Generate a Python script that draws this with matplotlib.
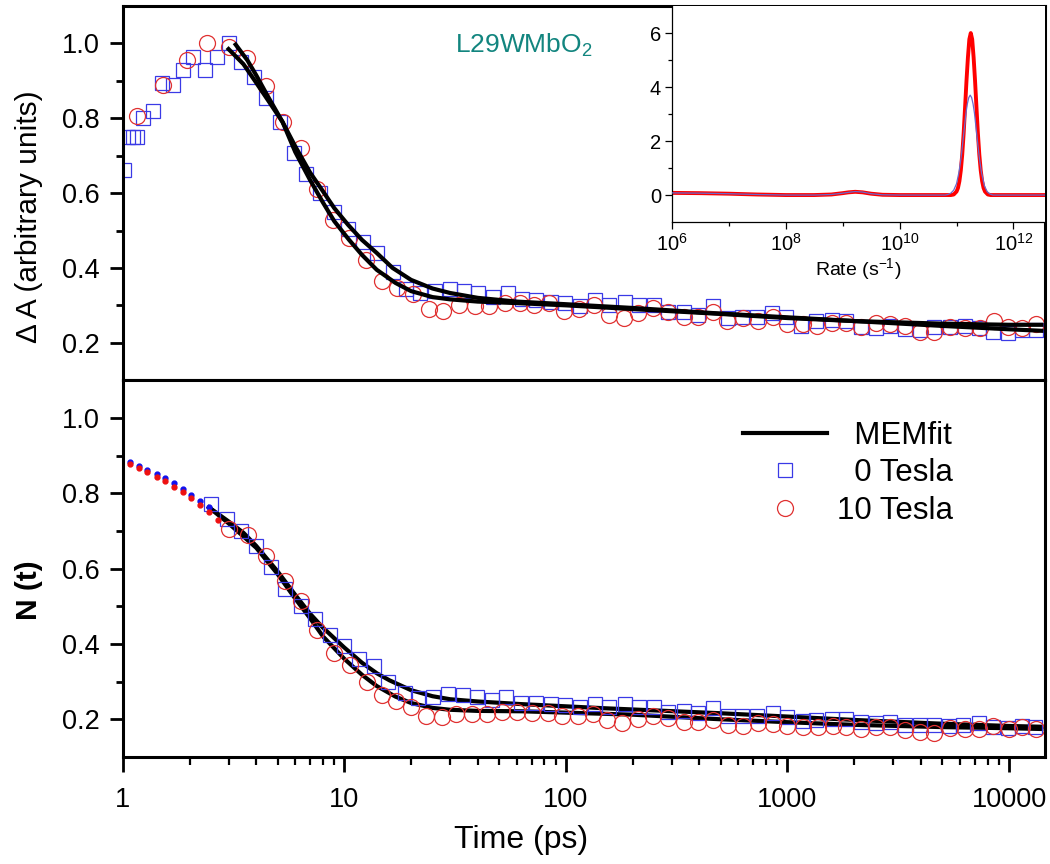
import matplotlib
matplotlib.use('Agg')
import matplotlib.pyplot as plt
from matplotlib.ticker import FixedLocator, NullFormatter, LogLocator
import numpy as np

plt.rcParams['font.family'] = ['Liberation Sans', 'DejaVu Sans']
plt.rcParams['mathtext.fontset'] = 'custom'
plt.rcParams['mathtext.rm'] = 'Liberation Sans'
plt.rcParams['mathtext.it'] = 'Liberation Sans:italic'

# ---------------- top panel: Delta A ----------------
top_sq_t = [1.01, 1.053, 1.109, 1.156, 1.23, 1.365, 1.50, 1.68, 1.86, 2.07, 2.34, 2.65, 3.0, 3.43,
            3.89, 4.45, 5.1, 5.9, 6.7, 7.8, 9.0, 10.4, 12.1, 14.1, 16.5, 19.0, 22.0, 25.7, 30.0,
            34.7, 40.2, 46.8, 54.6, 63.3, 73.3, 85.2, 99.3, 116, 135, 157, 184, 214, 250, 290,
            340, 395, 462, 540, 625, 730, 850, 990, 1150, 1340, 1590, 1840, 2150, 2500, 2900,
            3400, 3960, 4600, 5400, 6300, 7300, 8500, 9900, 11500, 13200]
top_sq_v = [0.663, 0.75, 0.75, 0.75, 0.80, 0.82, 0.895, 0.888, 0.928, 0.965, 0.928, 0.963, 1.0, 0.95,
            0.91, 0.853, 0.789, 0.708, 0.65, 0.60, 0.55, 0.505, 0.468, 0.44, 0.388, 0.345, 0.334,
            0.337, 0.345, 0.337, 0.334, 0.323, 0.334, 0.318, 0.313, 0.31, 0.307, 0.297, 0.313,
            0.302, 0.31, 0.302, 0.30, 0.283, 0.283, 0.275, 0.297, 0.267, 0.27, 0.27, 0.28, 0.27,
            0.246, 0.257, 0.262, 0.259, 0.243, 0.24, 0.246, 0.238, 0.235, 0.243, 0.243, 0.246,
            0.24, 0.23, 0.227, 0.233, 0.233]

top_ci_t = [1.16, 1.51, 1.94, 2.39, 3.0, 3.65, 4.45, 5.3, 6.4, 7.5, 8.9, 10.5, 12.5, 14.8, 17.3,
            20.5, 24.0, 28.0, 33.0, 39.0, 45.0, 53.0, 62.0, 72.0, 84.0, 98.0, 115, 134, 157, 182,
            212, 248, 290, 340, 395, 460, 535, 630, 735, 860, 1000, 1170, 1360, 1590, 1840,
            2150, 2520, 2900, 3400, 3960, 4600, 5400, 6300, 7400, 8600, 9900, 11500, 13300]
top_ci_v = [0.805, 0.888, 0.955, 1.0, 0.99, 0.96, 0.885, 0.79, 0.72, 0.612, 0.529, 0.48, 0.422,
            0.366, 0.346, 0.33, 0.291, 0.286, 0.30, 0.297, 0.297, 0.307, 0.307, 0.302, 0.305,
            0.286, 0.29, 0.30, 0.275, 0.267, 0.28, 0.294, 0.283, 0.27, 0.27, 0.283, 0.257,
            0.265, 0.259, 0.27, 0.251, 0.249, 0.246, 0.254, 0.254, 0.243, 0.254, 0.251, 0.246,
            0.23, 0.23, 0.243, 0.24, 0.24, 0.257, 0.243, 0.24, 0.249]

top_fit_sq_t = [3.0, 3.5, 4.0, 4.5, 5.26, 6.0, 7.0, 8.0, 9.0, 10.4, 12.0, 14.0, 16.5, 20.0, 25.0,
                30.0, 40.0, 60.0, 100, 200, 500, 1000, 2000, 5000, 10000, 14000]
top_fit_sq_v = [0.985, 0.945, 0.895, 0.85, 0.79, 0.725, 0.655, 0.605, 0.56, 0.515, 0.475, 0.44,
                0.40, 0.368, 0.345, 0.333, 0.32, 0.31, 0.303, 0.293, 0.278, 0.268, 0.258, 0.245,
                0.236, 0.232]
top_fit_ci_t = [3.23, 3.65, 4.0, 4.5, 5.26, 6.0, 7.0, 8.0, 9.0, 10.5, 12.0, 14.0, 17.0, 20.0, 25.0,
                30.0, 40.0, 60.0, 100, 200, 500, 1000, 2000, 5000, 10000, 14000]
top_fit_ci_v = [0.997, 0.955, 0.915, 0.86, 0.79, 0.71, 0.635, 0.575, 0.525, 0.475, 0.435, 0.395,
                0.36, 0.338, 0.322, 0.316, 0.31, 0.306, 0.3, 0.29, 0.277, 0.266, 0.258, 0.251,
                0.248, 0.248]

# ---------------- bottom panel: N(t) ----------------
bot_dot_t = [1.08, 1.18, 1.29, 1.42, 1.55, 1.70, 1.86, 2.04, 2.23, 2.44]
bot_dot_blue = [0.883, 0.872, 0.862, 0.851, 0.839, 0.826, 0.811, 0.796, 0.78, 0.762]
bot_dot_red_t = [1.08, 1.18, 1.29, 1.42, 1.55, 1.70, 1.86, 2.04, 2.23, 2.44, 2.68]
bot_dot_red = [0.877, 0.866, 0.855, 0.843, 0.831, 0.817, 0.802, 0.786, 0.769, 0.75, 0.73]

bot_sq_t = [2.49, 2.94, 3.4, 3.97, 4.64, 5.37, 6.34, 7.33, 8.57, 10.0, 11.66, 13.6, 15.8, 18.7,
            21.6, 25.2, 29.3, 34.2, 39.6, 46.4, 53.8, 62.8, 73.1, 85.2, 98.6, 116, 135, 157,
            184, 214, 250, 290, 340, 395, 462, 540, 625, 730, 860, 1000, 1170, 1350, 1590,
            1840, 2150, 2500, 2900, 3400, 3960, 4600, 5350, 6200, 7300, 8500, 9900, 11500, 13100]
bot_sq_v = [0.771, 0.732, 0.70, 0.66, 0.604, 0.546, 0.501, 0.466, 0.424, 0.393, 0.359, 0.341,
            0.30, 0.269, 0.256, 0.259, 0.267, 0.264, 0.259, 0.251, 0.259, 0.243, 0.243, 0.24,
            0.237, 0.232, 0.24, 0.232, 0.24, 0.232, 0.232, 0.219, 0.221, 0.216, 0.229, 0.208,
            0.208, 0.208, 0.216, 0.205, 0.195, 0.197, 0.2, 0.2, 0.192, 0.189, 0.192, 0.184,
            0.184, 0.184, 0.181, 0.184, 0.189, 0.179, 0.176, 0.181, 0.179]

bot_ci_t = [3.0, 3.66, 4.45, 5.37, 6.4, 7.5, 9.0, 10.6, 12.7, 14.8, 17.1, 20.0, 23.3, 27.5, 32.0,
            37.6, 44.0, 51.6, 60.3, 70.6, 82.8, 96.5, 113, 132, 154, 180, 212, 248, 290, 340,
            395, 462, 540, 630, 740, 860, 1000, 1170, 1370, 1600, 1840, 2150, 2520, 2900,
            3400, 3960, 4600, 5400, 6300, 7300, 8500, 9950, 11500, 13200]
bot_ci_v = [0.704, 0.688, 0.633, 0.566, 0.513, 0.437, 0.377, 0.344, 0.30, 0.264, 0.249, 0.232,
            0.208, 0.205, 0.213, 0.213, 0.213, 0.219, 0.219, 0.216, 0.216, 0.208, 0.208, 0.213,
            0.197, 0.189, 0.2, 0.208, 0.203, 0.192, 0.192, 0.197, 0.184, 0.181, 0.189, 0.187,
            0.181, 0.179, 0.179, 0.181, 0.179, 0.173, 0.179, 0.179, 0.171, 0.165, 0.163,
            0.176, 0.173, 0.173, 0.181, 0.173, 0.179, 0.173]

bot_fit_sq_t = [2.45, 3.0, 3.5, 4.0, 5.0, 6.0, 7.0, 8.0, 10.0, 12.0, 14.0, 16.0, 20.0, 25.0, 30.0,
                40.0, 63.0, 150, 490, 1000, 2000, 5000, 10000, 14000]
bot_fit_sq_v = [0.762, 0.725, 0.695, 0.66, 0.592, 0.53, 0.48, 0.443, 0.39, 0.35, 0.322, 0.303,
                0.277, 0.261, 0.253, 0.247, 0.24, 0.229, 0.216, 0.207, 0.198, 0.188, 0.182, 0.18]
bot_fit_ci_t = [2.45, 3.0, 4.0, 5.0, 6.0, 7.0, 8.0, 10.0, 12.0, 14.0, 17.0, 20.0, 25.0, 30.0,
                40.0, 63.0, 200, 490, 1000, 2000, 5000, 10000, 14000]
bot_fit_ci_v = [0.762, 0.72, 0.655, 0.585, 0.52, 0.468, 0.42, 0.36, 0.318, 0.288, 0.26, 0.243,
                0.23, 0.225, 0.222, 0.221, 0.212, 0.2, 0.192, 0.185, 0.179, 0.176, 0.174]

# ---------------- inset: rate distributions ----------------
rate_red_log = [6.0, 6.5, 7.0, 7.5, 8.0, 8.5, 8.8, 9.0, 9.1, 9.22, 9.35, 9.5, 9.7, 10.0, 10.5,
                10.9, 10.95, 11.0, 11.025, 11.05, 11.075, 11.1, 11.125, 11.15, 11.175, 11.2,
                11.225, 11.25, 11.275, 11.3, 11.325, 11.35, 11.375, 11.4, 11.425, 11.45, 11.475,
                11.5, 11.55, 11.6, 12.0, 12.55]
rate_red_amp = [0.08, 0.07, 0.05, 0.02, 0.0, 0.0, 0.02, 0.07, 0.1, 0.12, 0.1, 0.05, 0.01, 0.0,
                0.0, 0.0, 0.02, 0.13, 0.26, 0.51, 0.91, 1.5, 2.29, 3.25, 4.24, 5.1, 5.77, 6.0,
                5.77, 5.1, 4.24, 3.25, 2.29, 1.5, 0.91, 0.51, 0.26, 0.13, 0.02, 0.0, 0.0, 0.0]
rate_blue_log = [6.0, 6.5, 7.0, 7.5, 8.0, 8.5, 8.8, 9.0, 9.1, 9.22, 9.35, 9.5, 9.7, 10.0, 10.5,
                 10.8, 10.85, 10.9, 10.95, 11.0, 11.04, 11.065, 11.09, 11.115, 11.14, 11.165,
                 11.19, 11.215, 11.24, 11.265, 11.29, 11.315, 11.34, 11.365, 11.39, 11.415,
                 11.44, 11.49, 11.54, 11.59, 11.64, 12.0, 12.55]
rate_blue_amp = [0.08, 0.07, 0.05, 0.02, 0.0, 0.0, 0.02, 0.07, 0.1, 0.13, 0.11, 0.05, 0.01, 0.0,
                 0.0, 0.0, 0.02, 0.07, 0.18, 0.42, 0.82, 1.16, 1.57, 2.05, 2.54, 3.03, 3.38, 3.61,
                 3.7, 3.61, 3.38, 3.03, 2.54, 2.05, 1.57, 1.16, 0.82, 0.34, 0.12, 0.036, 0.0,
                 0.0, 0.0]

x_ticks = [1, 10, 100, 1000, 10000]
x_ticklabels = ['1', '10', '100', '1000', '10000']
y_ticks = [0.2, 0.4, 0.6, 0.8, 1.0]
y_ticklabels = ['0.2', '0.4', '0.6', '0.8', '1.0']

sq_color = '#3a3ae6'
ci_color = '#e03030'

fig = plt.figure(figsize=(10.5, 8.64), dpi=100)
ax1 = fig.add_axes([0.117, 0.560, 0.878, 0.433])
ax2 = fig.add_axes([0.117, 0.124, 0.878, 0.436], sharex=ax1)

for ax in (ax1, ax2):
    ax.set_xscale('log')
    ax.set_xlim(1, 14500)
    ax.set_ylim(0.1, 1.1)
    ax.yaxis.set_major_locator(FixedLocator(y_ticks))
    ax.set_yticklabels(y_ticklabels)
    ax.yaxis.set_minor_locator(FixedLocator([0.3, 0.5, 0.7, 0.9]))
    ax.tick_params(axis='y', which='major', direction='out', length=9.5, width=2, labelsize=19.5, pad=7)
    ax.tick_params(axis='y', which='minor', direction='out', length=5, width=2)
    ax.tick_params(axis='y', right=False)
    for s in ax.spines.values():
        s.set_linewidth(2.2)

ax1.tick_params(axis='x', which='both', bottom=False, top=False, labelbottom=False)
ax2.xaxis.set_major_locator(FixedLocator(x_ticks))
ax2.xaxis.set_minor_locator(LogLocator(base=10, subs=np.arange(2, 10)))
ax2.xaxis.set_minor_formatter(NullFormatter())
ax2.set_xticklabels(x_ticklabels)
ax2.tick_params(axis='x', which='major', direction='out', length=11, width=2, labelsize=19.5, pad=11)
ax2.tick_params(axis='x', which='minor', direction='out', length=5.5, width=1.6)
ax2.tick_params(axis='x', top=False)

mk = dict(linestyle='none', markerfacecolor='none', markeredgewidth=0.9)

ax1.plot(top_sq_t, top_sq_v, marker='s', markersize=10.5, markeredgecolor=sq_color, **mk)
ax1.plot(top_ci_t, top_ci_v, marker='o', markersize=11.5, markeredgecolor=ci_color, **mk)
ax1.plot(top_fit_sq_t, top_fit_sq_v, color='k', lw=3)
ax1.plot(top_fit_ci_t, top_fit_ci_v, color='k', lw=3)

ax2.plot(bot_dot_t, bot_dot_blue, 'o', color='#1010ee', markersize=3.5, zorder=3)
ax2.plot(bot_dot_red_t, bot_dot_red, 'o', color='#ee1010', markersize=3.5, zorder=3)
ax2.plot(bot_fit_sq_t, bot_fit_sq_v, color='k', lw=3, label='  MEMfit')
ax2.plot(bot_fit_ci_t, bot_fit_ci_v, color='k', lw=3)
ax2.plot(bot_sq_t, bot_sq_v, marker='s', markersize=10.5, markeredgecolor=sq_color,
         label='  0 Tesla', **mk)
ax2.plot(bot_ci_t, bot_ci_v, marker='o', markersize=11.5, markeredgecolor=ci_color,
         label='10 Tesla', **mk)

ax1.set_ylabel('\u0394 A (arbitrary units)', fontsize=21.5)
ax2.set_ylabel('N (t)', fontsize=21.5, fontweight='bold')
ax1.yaxis.set_label_coords(-0.087, 0.436)
ax2.yaxis.set_label_coords(-0.087, 0.443)
ax2.set_xlabel('Time (ps)', fontsize=23)
ax2.xaxis.set_label_coords(0.432, -0.18)

ax1.text(0.435, 0.895, 'L29WMbO$_2$', transform=ax1.transAxes, fontsize=19,
         color='#12857f', ha='center', va='center')

leg = ax2.legend(loc='upper left', bbox_to_anchor=(0.659, 0.926), frameon=False, fontsize=22.5,
                 handlelength=2.7, handletextpad=0.32, labelspacing=0.25, borderaxespad=0)

# inset
axi = fig.add_axes([0.640, 0.743, 0.355, 0.250])
axi.set_xscale('log')
axi.plot(np.power(10.0, rate_blue_log), rate_blue_amp, color='#6a6acc', lw=0.9, zorder=3)
axi.plot(np.power(10.0, rate_red_log), rate_red_amp, color='#ff0000', lw=2.8, zorder=2)
axi.set_xlim(1e6, 10 ** 12.55)
axi.set_ylim(-1, 7)
axi.xaxis.set_major_locator(FixedLocator([1e6, 1e8, 1e10, 1e12]))
axi.xaxis.set_minor_locator(FixedLocator([1e7, 1e9, 1e11]))
axi.xaxis.set_minor_formatter(NullFormatter())
axi.yaxis.set_major_locator(FixedLocator([0, 2, 4, 6]))
axi.yaxis.set_minor_locator(FixedLocator([1, 3, 5]))
axi.tick_params(which='major', direction='out', length=5, width=0.9, labelsize=14.5, pad=3)
axi.tick_params(which='minor', direction='out', length=3, width=0.9)
axi.spines['top'].set_visible(False)
axi.spines['right'].set_visible(False)
for s in ('left', 'bottom'):
    axi.spines[s].set_linewidth(0.9)
axi.set_xlabel('Rate (s$^{-1}$)', fontsize=14, labelpad=1)

fig.savefig('out.png', dpi=100)
